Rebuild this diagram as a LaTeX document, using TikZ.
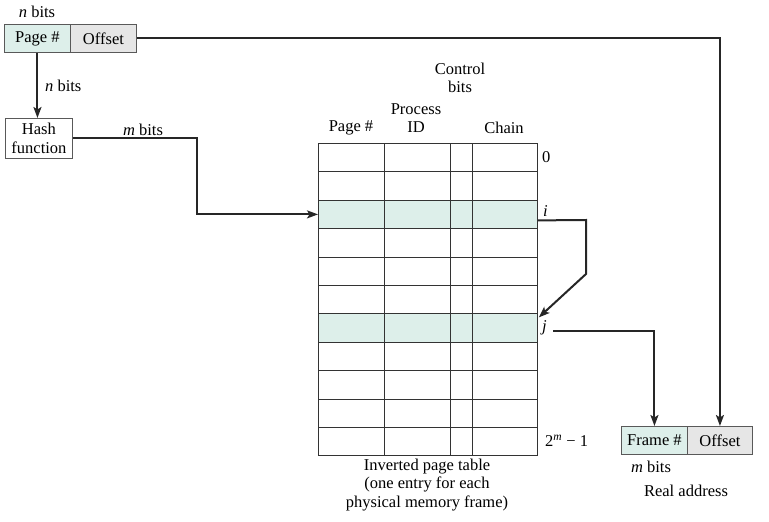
\documentclass[tikz,border=0pt]{standalone}
\usepackage{fontspec}
\setmainfont{Liberation Serif}[Ligatures=TeX]
\usetikzlibrary{arrows.meta,calc}
\definecolor{tealfill}{HTML}{DDEFEA}
\definecolor{grayfill}{HTML}{E6E6E6}
\begin{document}
\begin{tikzpicture}[x=1pt,y=-1pt,
  font=\rmfamily\fontsize{16.5}{18.5}\selectfont,
  box/.style={draw=black!65, line width=0.9pt, minimum height=28pt, inner sep=0pt, anchor=north west},
  cell/.style={draw=black!80, line width=0.8pt, minimum height=28.4pt, inner sep=0pt, anchor=north west},
  conn/.style={line width=2pt, black!85},
  arr/.style={conn, -{Stealth[length=11pt,width=8pt,inset=2.5pt]}},
  lbl/.style={inner sep=0pt, align=center}]
\useasboundingbox (0,0) rectangle (769,522);

% virtual address
\node[box, fill=tealfill, minimum width=66pt] (pg) at (4,24) {Page \#};
\node[box, fill=grayfill, minimum width=66pt] (off) at (70,24) {Offset};
\node[lbl] (nb1) at (37,12) {\textit{n} bits};

% hash function
\node[box, minimum width=67pt, minimum height=40pt, align=center] (hash) at (5,118) {Hash\\[0pt]function};
\node[lbl, anchor=west] (nb2) at (45,86) {\textit{n} bits};
\node[lbl] (mb1) at (143,130) {\textit{m} bits};

% table
\foreach \r/\f in {0/white,1/white,2/tealfill,3/white,4/white,5/white,6/tealfill,7/white,8/white,9/white,10/white}{
  \pgfmathsetmacro\yy{143+28.4*\r}
  \node[cell, fill=\f, minimum width=66pt] (c\r-1) at (318,\yy) {};
  \node[cell, fill=\f, minimum width=66pt] (c\r-2) at (384,\yy) {};
  \node[cell, fill=\f, minimum width=22pt] (c\r-3) at (450,\yy) {};
  \node[cell, fill=\f, minimum width=65pt] (c\r-4) at (472,\yy) {};
}
\node[lbl] (h1) at (351,128) {Page \#};
\node[lbl] (h2) at (416,118) {Process\\ID};
\node[lbl] (h3) at (504,128) {Chain};
\node[lbl] (h4) at (460,78) {Control\\bits};
\node[lbl, anchor=west] (l0) at (542,157) {0};
\node[lbl, anchor=west] (li) at (543,211) {\textit{i}};
\node[lbl, anchor=west] (lj) at (542,328) {\textit{j}};
\node[lbl, anchor=west] (lm) at (545,441) {2\textsuperscript{\textit{m}} − 1};
\node[lbl] (cap) at (427,485) {Inverted page table\\(one entry for each\\physical memory frame)};

% real address
\node[box, fill=tealfill, minimum width=66pt] (fr) at (621,426) {Frame \#};
\node[box, fill=grayfill, minimum width=65pt] (roff) at (687,426) {Offset};
\node[lbl] (mb2) at (651,467) {\textit{m} bits};
\node[lbl] (ra) at (686,491) {Real address};

% connectors
\draw[arr] (pg.south) -- (pg.south |- hash.north);
\draw[arr] (off.east) -| (roff.north);
\draw[arr] (hash.east) -- ++(124,0) |- (c2-1.west);
\coordinate (istart) at ($(c2-4.east)+(0,6)$);
\coordinate (iturn) at (586,220);
\coordinate (itip) at ($(c6-4.north east)+(1,4)$);
\draw[arr] (istart) -- (iturn) -- (586,274) -- (itip);
\coordinate (jstart) at (553,331);
\draw[arr] (jstart) -| (fr.north);
\end{tikzpicture}
\end{document}
